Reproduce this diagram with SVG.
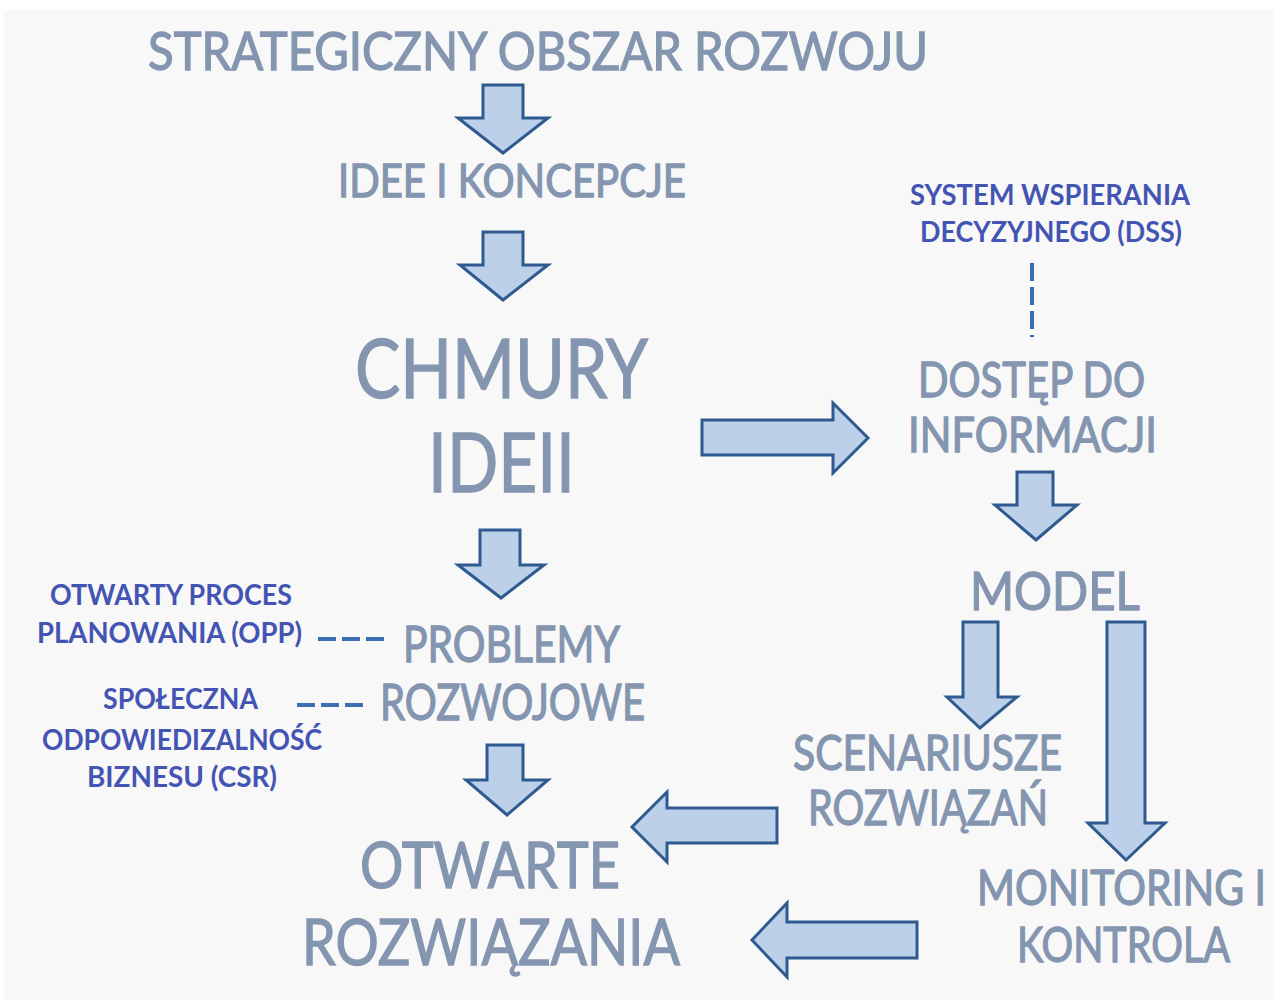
<svg xmlns="http://www.w3.org/2000/svg" width="1274" height="1002" viewBox="0 0 1274 1002">
<style>
.arr{fill:#bdd0ea;stroke:#2f5a8f;stroke-width:3;stroke-linejoin:miter}
.big{font-family:Lato,"Liberation Sans",sans-serif;fill:#8495b0;stroke:#8495b0;stroke-width:1.3;paint-order:stroke}
.small{font-family:Lato,"Liberation Sans",sans-serif;fill:#4454b2;font-size:28px;font-weight:bold}
.dash{stroke:#3b6fb2;stroke-width:4;fill:none;stroke-dasharray:18 6}
</style>
<rect x="0" y="0" width="1274" height="1002" fill="#ffffff"/>
<rect x="4" y="10" width="1270" height="990" fill="#f8f8f8"/>
<g id="connectors">
<polygon class="arr" points="483,85 523,85 523,118 548,118 503,153 458,118 483,118"/>
<polygon class="arr" points="483,232 523,232 523,265 548,265 503,300 460,265 483,265"/>
<polygon class="arr" points="480,530 520,530 520,565 544,565 501,598 458,565 480,565"/>
<polygon class="arr" points="487,745 523,745 523,780 548,780 507,815 466,780 487,780"/>
<polygon class="arr" points="702,420 833,420 833,403 868,438 833,473 833,455 702,455"/>
<polygon class="arr" points="1017,472 1053,472 1053,505 1077,505 1036,540 995,505 1017,505"/>
<polygon class="arr" points="963,622 998,622 998,697 1017,697 980,728 947,697 963,697"/>
<polygon class="arr" points="1107,622 1145,622 1145,823 1165,823 1126,860 1088,823 1107,823"/>
<polygon class="arr" points="777,808 667,808 667,792 632,827 667,862 667,843 777,843"/>
<polygon class="arr" points="917,922 787,922 787,903 752,940 787,977 787,958 917,958"/>
<line class="dash" x1="318" y1="639" x2="388" y2="639"/>
<line class="dash" x1="297" y1="705" x2="366" y2="705"/>
<line class="dash" x1="1032" y1="263" x2="1032" y2="337"/>
</g>
<g id="title"><text class="big" x="148" y="70" font-size="52" textLength="780" lengthAdjust="spacingAndGlyphs">STRATEGICZNY OBSZAR ROZWOJU</text></g>
<g id="idee"><text class="big" x="338" y="197" font-size="47" textLength="348" lengthAdjust="spacingAndGlyphs">IDEE I KONCEPCJE</text></g>
<g id="chmury">
<text class="big" x="355" y="398" font-size="81" textLength="293" lengthAdjust="spacingAndGlyphs" stroke-width="2">CHMURY</text>
<text class="big" x="428" y="492" font-size="81" textLength="147" lengthAdjust="spacingAndGlyphs" stroke-width="2">IDEII</text>
</g>
<g id="dostep">
<text class="big" x="918" y="397" font-size="49" textLength="227" lengthAdjust="spacingAndGlyphs">DOSTĘP DO</text>
<text class="big" x="908" y="452" font-size="49" textLength="249" lengthAdjust="spacingAndGlyphs">INFORMACJI</text>
</g>
<g id="model"><text class="big" x="970" y="610" font-size="53" textLength="170" lengthAdjust="spacingAndGlyphs">MODEL</text></g>
<g id="problemy">
<text class="big" x="403" y="662" font-size="51" textLength="217" lengthAdjust="spacingAndGlyphs">PROBLEMY</text>
<text class="big" x="380" y="720" font-size="51" textLength="265" lengthAdjust="spacingAndGlyphs">ROZWOJOWE</text>
</g>
<g id="scenariusze">
<text class="big" x="793" y="770" font-size="49" textLength="269" lengthAdjust="spacingAndGlyphs">SCENARIUSZE</text>
<text class="big" x="808" y="825" font-size="49" textLength="240" lengthAdjust="spacingAndGlyphs">ROZWIĄZAŃ</text>
</g>
<g id="otwarte">
<text class="big" x="360" y="888" font-size="63" textLength="260" lengthAdjust="spacingAndGlyphs" stroke-width="1.6">OTWARTE</text>
<text class="big" x="302" y="965" font-size="63" textLength="378" lengthAdjust="spacingAndGlyphs" stroke-width="1.6">ROZWIĄZANIA</text>
</g>
<g id="monitoring">
<text class="big" x="977" y="905" font-size="49" textLength="289" lengthAdjust="spacingAndGlyphs">MONITORING I</text>
<text class="big" x="1017" y="962" font-size="49" textLength="213" lengthAdjust="spacingAndGlyphs">KONTROLA</text>
</g>
<g id="dss">
<text class="small" x="910" y="205" textLength="280" lengthAdjust="spacingAndGlyphs">SYSTEM WSPIERANIA</text>
<text class="small" x="920" y="242" textLength="262" lengthAdjust="spacingAndGlyphs">DECYZYJNEGO (DSS)</text>
</g>
<g id="opp">
<text class="small" x="50" y="605" textLength="242" lengthAdjust="spacingAndGlyphs">OTWARTY PROCES</text>
<text class="small" x="37" y="643" textLength="265" lengthAdjust="spacingAndGlyphs">PLANOWANIA (OPP)</text>
</g>
<g id="csr">
<text class="small" x="103" y="709" textLength="155" lengthAdjust="spacingAndGlyphs">SPOŁECZNA</text>
<text class="small" x="42" y="750" textLength="280" lengthAdjust="spacingAndGlyphs">ODPOWIEDIZALNOŚĆ</text>
<text class="small" x="87" y="787" textLength="190" lengthAdjust="spacingAndGlyphs">BIZNESU (CSR)</text>
</g>
</svg>
